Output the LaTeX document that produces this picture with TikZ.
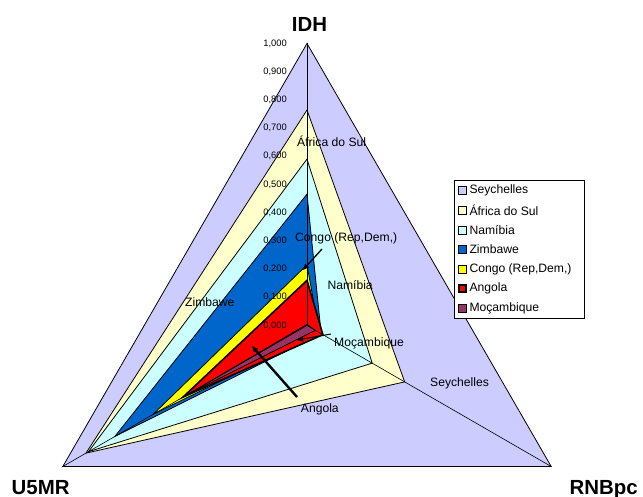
\documentclass[tikz,border=0pt]{standalone}
\usepackage{fontspec}
\setmainfont{Liberation Sans}
\usetikzlibrary{calc,arrows.meta}
\definecolor{cSey}{HTML}{CCCCFF}
\definecolor{cAfs}{HTML}{FFFFCC}
\definecolor{cNam}{HTML}{CCFFFF}
\definecolor{cZim}{HTML}{0066CC}
\definecolor{cCon}{HTML}{FFFF00}
\definecolor{cAng}{HTML}{FF0000}
\definecolor{cMoc}{HTML}{993366}
\newcommand\radartri[5][]{% style, colour, IDH, U5MR, RNBpc
  \filldraw[series,fill=#2,#1] ($(C)!#3!(AI)$) -- ($(C)!#4!(AU)$) -- ($(C)!#5!(AR)$) -- cycle;}
\begin{document}
\begin{tikzpicture}[x=1bp,y=-1bp,
  series/.style={draw=black,line width=0.8bp,line join=miter},
  axisline/.style={draw=black,line width=0.6bp},
  ticklbl/.style={anchor=east,inner sep=0pt,font=\fontsize{9.4}{10}\selectfont},
  axislbl/.style={anchor=base,inner sep=0pt,font=\fontsize{20.5}{22}\selectfont\bfseries},
  datalbl/.style={anchor=base west,inner sep=0pt,font=\fontsize{12.2}{14}\selectfont},
  leader/.style={draw=black,line width=1.3bp,-{Triangle[length=6bp,width=5bp]}},
  legbox/.style={draw=black,fill=white,line width=0.8bp},
  swatch/.style={draw=black,line width=0.6bp,minimum size=8bp,inner sep=0pt},
  legtxt/.style={anchor=west,inner sep=0pt,font=\fontsize{12.2}{14}\selectfont}]
\useasboundingbox (0,0) rectangle (643,497);
\fill[white] (0,0) rectangle (643,497);

% centre and axis ends of the radar
\coordinate (C)  at (307,325.5);
\coordinate (AI) at (307,43.5);
\coordinate (AU) at (62.8,466.5);
\coordinate (AR) at (551.2,466.5);

% one filled triangle per country, drawn in series order
\radartri{cSey}{1}{1}{1}
\radartri{cAfs}{0.764}{0.905}{0.40}
\radartri{cNam}{0.590}{0.895}{0.267}
\radartri{cZim}{0.466}{0.787}{0.058}
\radartri{cCon}{0.215}{0.630}{0.050}
\radartri[line width=1.6bp]{cAng}{0.160}{0.508}{0.065}
\radartri{cMoc}{0.004}{0.490}{0.034}

% axes
\draw[axisline] (C) -- (AI);
\draw[axisline] (C) -- (AU);
\draw[axisline] (C) -- (AR);

% IDH scale
\foreach \k/\t in {0/{0,000},1/{0,100},2/{0,200},3/{0,300},4/{0,400},5/{0,500},6/{0,600},7/{0,700},8/{0,800},9/{0,900},10/{1,000}}
  \node[ticklbl] (tick\k) at (287,325.5-28.2*\k) {\t};

% axis titles
\node[axislbl] (tIDH) at (309.5,31.7) {IDH};
\node[axislbl,anchor=base west] (tU5) at (11.5,494) {U5MR};
\node[axislbl,anchor=base west] (tRNB) at (569.5,494) {RNBpc};

% data labels
\node[datalbl] (lAfs) at (297,146.5) {África do Sul};
\node[datalbl] (lCon) at (295,241.7) {Congo (Rep,Dem,)};
\node[datalbl] (lNam) at (327.3,289) {Namíbia};
\node[datalbl] (lZim) at (185,306.7) {Zimbawe};
\node[datalbl] (lMoc) at (334,346.7) {Moçambique};
\node[datalbl] (lAng) at (300.7,412.7) {Angola};
\node[datalbl] (lSey) at (430,386.7) {Seychelles};

% leader arrows
\coordinate (aConS) at (322,249);
\coordinate (aConE) at (303,270);
\draw[leader] (aConS) -- (aConE);
\coordinate (aAngS) at (297,397);
\coordinate (aAngE) at (252,346);
\draw[leader,line width=2.4bp] (aAngS) -- (aAngE);
\coordinate (aMocS) at (331,334);
\coordinate (aMocE) at (297,340);
\draw[leader,line width=1bp] (aMocS) -- (aMocE);

% legend
\node[legbox,minimum width=129.7bp,minimum height=138.3bp,anchor=north west,inner sep=0pt] (leg) at (454.3,180) {};
\foreach \i/\c/\t in {0/cSey/Seychelles,1/cAfs/África do Sul,2/cNam/Namíbia,3/cZim/Zimbawe,4/cCon/{Congo (Rep,Dem,)},5/cAng/Angola,6/cMoc/Moçambique}{
  \node[swatch,fill=\c] (sw\i) at (462.3,190.7+19.6*\i) {};
  \node[legtxt] (lt\i) at (469.3,190.7+19.6*\i) {\t};
}
\node[swatch,fill=cAng,line width=1.6bp,minimum size=7bp] at (sw5) {};
\end{tikzpicture}
\end{document}
